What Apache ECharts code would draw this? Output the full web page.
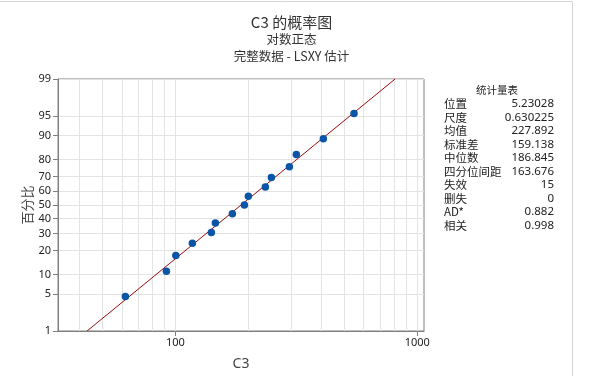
<!DOCTYPE html>
<html>
<head>
<meta charset="utf-8">
<script src="https://cdn.jsdelivr.net/npm/echarts@6/dist/echarts.min.js"></script>
<style>html,body{margin:0;padding:0;background:#fff;}#c{width:589px;height:376px;}</style>
</head>
<body>
<div id="c"></div>
<script>
// ---- data ----
const xValues = [62.1, 91.8, 100.4, 117.5, 140.8, 146.3, 172.0, 192.8, 200.3, 235.4, 249.3, 295.9, 316.2, 408.9, 547.4];
const pctValues = [4.545, 11.039, 17.532, 24.026, 30.519, 37.013, 43.506, 50.0, 56.494, 62.987, 69.481, 75.974, 82.468, 88.961, 95.455];
const probTicks = [1, 5, 10, 20, 30, 40, 50, 60, 70, 80, 90, 95, 99];
const xLabelTicks = [100, 1000];
const xGridTicks = [40, 50, 60, 70, 80, 90, 100, 200, 300, 400, 500, 600, 700, 800, 900, 1000];
const fitLocation = 5.23028;
const fitScale = 0.630225;
const statLabels = ['位置', '尺度', '均值', '标准差', '中位数', '四分位间距', '失效', '删失', 'AD*', '相关'];
const statValues = ['5.23028', '0.630225', '227.892', '159.138', '186.845', '163.676', '15', '0', '0.882', '0.998'];

// inverse standard normal (probability scale transform)
function probit(p) {
  const a = [-3.969683028665376e+01, 2.209460984245205e+02, -2.759285104469687e+02, 1.383577518672690e+02, -3.066479806614716e+01, 2.506628277459239e+00];
  const b = [-5.447609879822406e+01, 1.615858368580409e+02, -1.556989798598866e+02, 6.680131188771972e+01, -1.328068155288572e+01];
  const c = [-7.784894002430293e-03, -3.223964580411365e-01, -2.400758277161838e+00, -2.549732539343734e+00, 4.374664141464968e+00, 2.938163982698783e+00];
  const d = [7.784695709041462e-03, 3.224671290700398e-01, 2.445134137142996e+00, 3.754408661907416e+00];
  const pl = 0.02425, ph = 1 - pl;
  let q, r;
  if (p < pl) { q = Math.sqrt(-2 * Math.log(p)); return (((((c[0]*q+c[1])*q+c[2])*q+c[3])*q+c[4])*q+c[5]) / ((((d[0]*q+d[1])*q+d[2])*q+d[3])*q+1); }
  if (p > ph) { q = Math.sqrt(-2 * Math.log(1 - p)); return -(((((c[0]*q+c[1])*q+c[2])*q+c[3])*q+c[4])*q+c[5]) / ((((d[0]*q+d[1])*q+d[2])*q+d[3])*q+1); }
  q = p - 0.5; r = q * q;
  return (((((a[0]*r+a[1])*r+a[2])*r+a[3])*r+a[4])*r+a[5])*q / (((((b[0]*r+b[1])*r+b[2])*r+b[3])*r+b[4])*r+1);
}
const zTicks = probTicks.map(p => probit(p / 100));
const zMin = zTicks[0], zMax = zTicks[zTicks.length - 1];
function zLabel(v) {
  let best = 0, bd = Infinity;
  zTicks.forEach((z, i) => { const dd = Math.abs(z - v); if (dd < bd) { bd = dd; best = i; } });
  return String(probTicks[best]);
}

const points = xValues.map((x, i) => [x, probit(pctValues[i] / 100)]);
const fitLine = [[Math.exp(fitLocation + fitScale * zMin), zMin], [Math.exp(fitLocation + fitScale * zMax), zMax]];

const chart = echarts.init(document.getElementById('c'), null, {renderer: 'canvas'});
const axisGray = '#7f7f7f';
const gridGray = '#e3e3e3';
const fontCJK = '"Noto Sans CJK SC", "Noto Sans", sans-serif';
const fontNum = '"Noto Sans", "Noto Sans CJK SC", sans-serif';

const graphics = [
  {type: 'polyline', shape: {points: [[0, 1.5], [572.5, 1.5], [572.5, 376]]}, style: {stroke: '#d4d4d4', lineWidth: 1, fill: null}, silent: true},
  {type: 'text', style: {text: '统计量表', x: 497, y: 90, align: 'center', verticalAlign: 'middle', font: '10.5px ' + fontCJK, fill: '#222'}}
];
statLabels.forEach((l, i) => {
  const y = 104 + i * 13.5;
  graphics.push({type: 'text', style: {text: l, x: 444, y: y, align: 'left', verticalAlign: 'middle', font: '11.5px ' + fontCJK, fill: '#222'}});
  graphics.push({type: 'text', style: {text: statValues[i], x: 554, y: y, align: 'right', verticalAlign: 'middle', font: '11.5px ' + fontNum, fill: '#222'}});
});

chart.setOption({
  animation: false,
  backgroundColor: '#fff',
  title: [
    {text: 'C3 的概率图', left: 286.5, top: 10, textAlign: 'center', textStyle: {fontSize: 15, fontWeight: 'normal', color: '#333', fontFamily: fontCJK}},
    {text: '对数正态', left: 286.5, top: 28, textAlign: 'center', textStyle: {fontSize: 12.5, fontWeight: 'normal', color: '#333', fontFamily: fontCJK}},
    {text: '完整数据 - LSXY 估计', left: 286.5, top: 45, textAlign: 'center', textStyle: {fontSize: 12.5, fontWeight: 'normal', color: '#333', fontFamily: fontCJK}}
  ],
  grid: {left: 58, right: 165, top: 79, bottom: 45, show: true, borderColor: axisGray, borderWidth: 1, backgroundColor: 'transparent'},
  xAxis: [
    {
      type: 'log', logBase: 10, min: 32.7, max: 1066,
      name: 'C3', nameLocation: 'middle', nameGap: 26, nameMoveOverlap: false,
      nameTextStyle: {fontSize: 14, color: '#444', fontFamily: fontNum},
      axisLine: {show: true, onZero: false, lineStyle: {color: axisGray}},
      axisTick: {show: true, length: 5, lineStyle: {color: axisGray}, customValues: xLabelTicks},
      axisLabel: {show: true, customValues: xLabelTicks, fontSize: 11, color: '#222', fontFamily: fontNum, margin: 6, formatter: v => String(Math.round(v))},
      splitLine: {show: false}
    },
    {
      type: 'log', logBase: 10, min: 32.7, max: 1066, position: 'bottom',
      axisLine: {show: false, onZero: false},
      axisTick: {show: false, customValues: xGridTicks},
      axisLabel: {show: false},
      splitLine: {show: true, lineStyle: {color: gridGray, width: 1}}
    }
  ],
  yAxis: {
    type: 'value', min: zMin, max: zMax,
    name: '百分比', nameLocation: 'middle', nameGap: 24, nameRotate: 90, nameMoveOverlap: false,
    nameTextStyle: {fontSize: 13, color: '#444', fontFamily: fontCJK},
    axisLine: {show: true, onZero: false, lineStyle: {color: axisGray}},
    axisTick: {show: true, length: 5, lineStyle: {color: axisGray}, customValues: zTicks},
    axisLabel: {show: true, customValues: zTicks, fontSize: 11, color: '#222', fontFamily: fontNum, margin: 7, formatter: zLabel},
    splitLine: {show: true, lineStyle: {color: gridGray, width: 1}}
  },
  series: [
    {type: 'line', xAxisIndex: 0, data: fitLine, showSymbol: false, symbol: 'none', lineStyle: {color: '#9b0a0a', width: 1}, z: 2, silent: true},
    {type: 'scatter', xAxisIndex: 0, data: points, symbol: 'circle', symbolSize: 7.5, itemStyle: {color: '#0a55a8', opacity: 1}, z: 3}
  ],
  graphic: graphics
});
</script>
</body>
</html>
